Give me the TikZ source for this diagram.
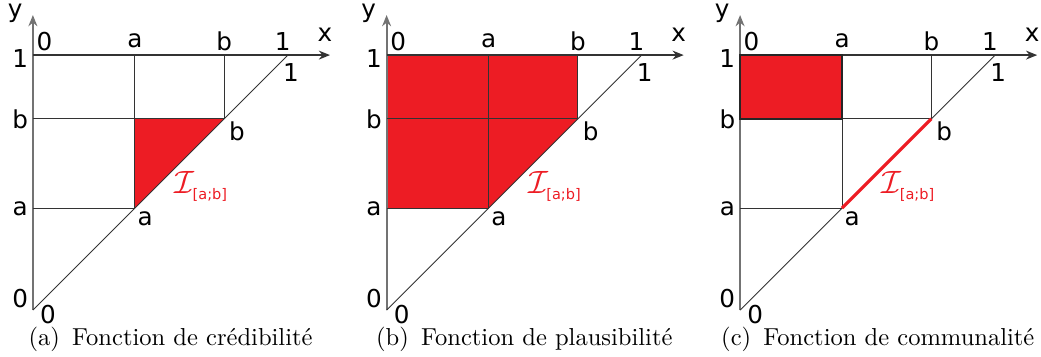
\documentclass[tikz,border=0pt]{standalone}
\usepackage{fontspec}
\setsansfont{DejaVu Sans}
\usetikzlibrary{arrows.meta}
\definecolor{rosso}{HTML}{ED1C24}

\newcommand{\va}{0.4}
\newcommand{\vb}{0.75}

% punti notevoli di un grafico
\newcommand{\punti}{%
  \coordinate (O) at (0,0);
  \coordinate (Yfin) at (0,1.157);
  \coordinate (Xfin) at (1.165,1);
  \coordinate (Y1) at (0,1);
  \coordinate (Yb) at (0,\vb);
  \coordinate (Ya) at (0,\va);
  \coordinate (Xa) at (\va,1);
  \coordinate (Xb) at (\vb,1);
  \coordinate (X1) at (1,1);
  \coordinate (Pa) at (\va,\va);
  \coordinate (Pb) at (\vb,\vb);
}

% assi, griglia ed etichette
\newcommand{\griglia}{%
  \draw[asse, black!55, line width=0.8pt] (O) -- (Yfin);
  \draw[asse] (Y1) -- (Xfin);
  \draw[linea] (O) -- (X1);
  \draw[linea] (Yb) -- (Pb) (Ya) -- (Pa) (Xa) -- (Pa) (Xb) -- (Pb);
  %etichette assi
  \node[etic] (ly) at (-0.07,1.165) {y};
  \node[etic] (lx) at (1.145,1.078) {x};
  %etichette in alto
  \node[etic] (t0) at (0.045,1.052) {0};
  \node[etic] (ta) at (\va,1.055) {a};
  \node[etic] (tb) at (\vb,1.055) {b};
  \node[etic] (t1) at (0.98,1.052) {1};
  %etichette a sinistra
  \node[etic] (s1) at (-0.05,0.988) {1};
  \node[etic] (sb) at (-0.05,0.749) {b};
  \node[etic] (sa) at (-0.05,0.396) {a};
  \node[etic] (s0) at (-0.05,0.047) {0};
  %etichette sulla diagonale
  \node[etic] (d0) at (0.059,-0.017) {0};
  \node[etic] (da) at (0.44,0.36) {a};
  \node[etic] (db) at (0.8,0.70) {b};
  \node[etic] (d1) at (1.012,0.933) {1};
  %intervallo
  \node[rosso, font=\fontsize{14}{16}\selectfont, inner sep=0pt] (li) at (0.595,0.50) {$\mathcal{I}$};
  \node[rosso, font=\sffamily\fontsize{6.5}{8}\selectfont, inner sep=0pt] (lsub) at (0.694,0.45) {[a;b]};
}

\begin{document}
\begin{tikzpicture}[x=4cm, y=4cm,
    asse/.style={line width=0.6pt, black!80, -{Stealth[length=5pt,width=4pt]}},
    linea/.style={line width=0.4pt, black!80},
    etic/.style={font=\sffamily\fontsize{11}{13}\selectfont, inner sep=0pt},
    didascalia/.style={font=\fontsize{10.95}{13}\selectfont, inner sep=0pt}]
  \useasboundingbox (-0.129,-0.180) rectangle (3.953,1.216);

  %grafico (a)
  \begin{scope}
    \punti
    \fill[rosso] (Pa) -- (Pb) -- (Pa|-Pb) -- cycle;
    \griglia
    \node[didascalia] (capa) at (0.54,-0.113) {(a)\, Fonction de crédibilité};
  \end{scope}

  %grafico (b)
  \begin{scope}[xshift=1.387*4cm]
    \punti
    \fill[rosso] (Ya) -- (Pa) -- (Pb) -- (Xb) -- (Y1) -- cycle;
    \griglia
    \node[didascalia] (capb) at (0.54,-0.113) {(b)\, Fonction de plausibilité};
  \end{scope}

  %grafico (c)
  \begin{scope}[xshift=2.773*4cm]
    \punti
    \fill[rosso] (Yb) rectangle (Xa);
    \griglia
    \draw[line width=0.6pt, black!85] (Yb) rectangle (Xa);
    \draw[rosso, line width=1.4pt] (Pa) -- (Pb);
    \node[didascalia] (capc) at (0.54,-0.113) {(c)\, Fonction de communalité};
  \end{scope}
\end{tikzpicture}
\end{document}
